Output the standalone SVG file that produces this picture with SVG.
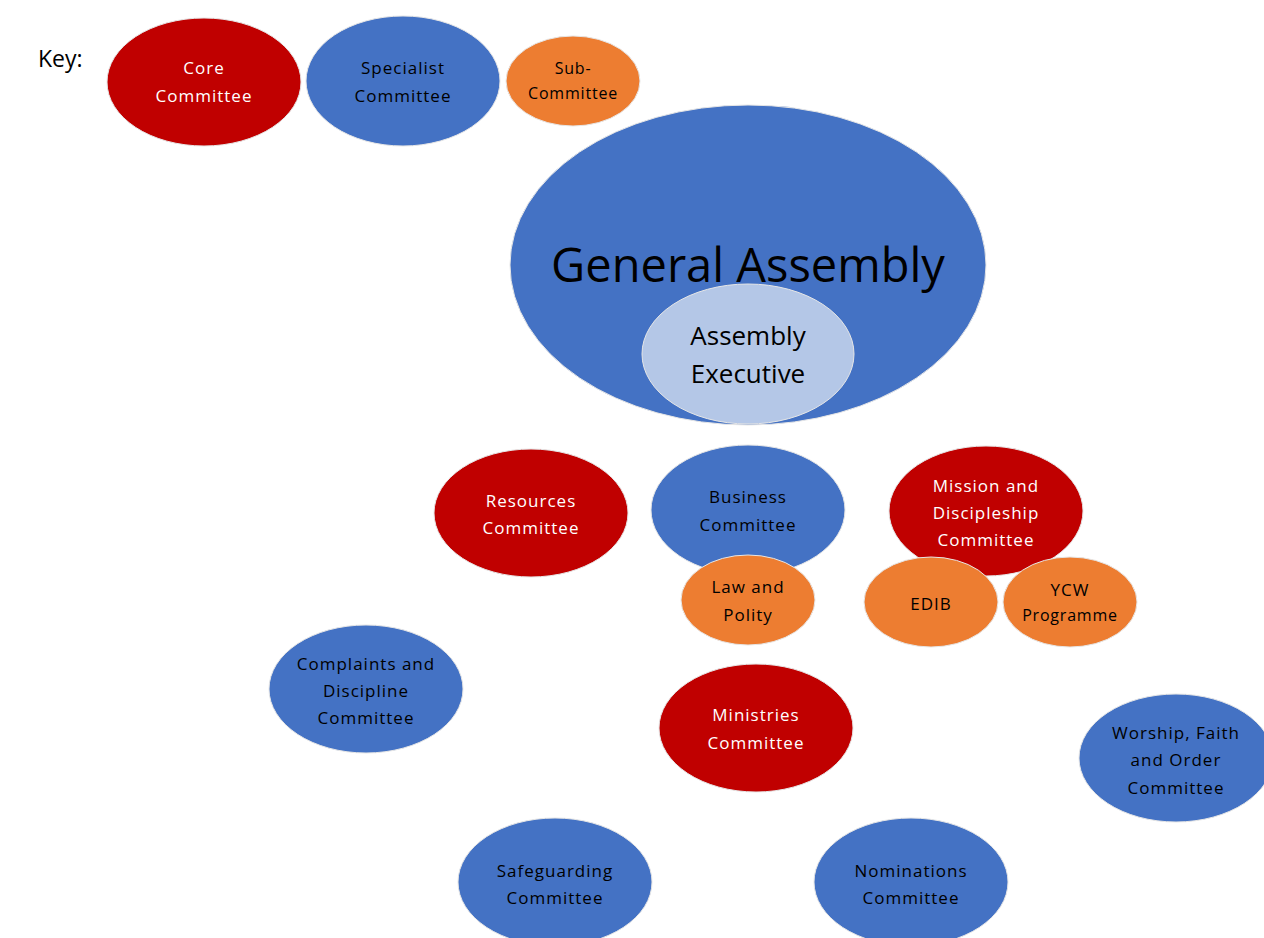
<svg xmlns="http://www.w3.org/2000/svg" width="1264" height="938" viewBox="0 0 1264 938">
<style>
text{font-family:"Open Sans","Liberation Sans",sans-serif;text-anchor:middle;dominant-baseline:central}
.red{fill:#C00000;stroke:#e6e6e6;stroke-width:1}
.blue{fill:#4472C4;stroke:#e6e6e6;stroke-width:1}
.orange{fill:#ED7D31;stroke:#e6e6e6;stroke-width:1}
.light{fill:#B4C7E7;stroke:#e6e6e6;stroke-width:1}
.w{fill:#fff;font-size:17px;letter-spacing:1px}
.k{fill:#000;font-size:17px;letter-spacing:1px}
.ks{fill:#000;font-size:16px;letter-spacing:0.8px}
</style>
<rect width="1264" height="938" fill="#fff"/>
<text x="38" y="58" style="text-anchor:start;font-size:23px" fill="#000">Key:</text>
<g id="key-core"><ellipse class="red" cx="204" cy="82" rx="97" ry="64"/><text class="w" x="204" y="67">Core</text><text class="w" x="204" y="95">Committee</text></g>
<g id="key-specialist"><ellipse class="blue" cx="403" cy="81" rx="97" ry="65"/><text class="k" x="403" y="67">Specialist</text><text class="k" x="403" y="95">Committee</text></g>
<g id="key-sub"><ellipse class="orange" cx="573" cy="81" rx="67" ry="45"/><text class="ks" x="573" y="68">Sub-</text><text class="ks" x="573" y="93">Committee</text></g>
<g id="general-assembly"><ellipse class="blue" cx="748" cy="265" rx="238" ry="160"/><text x="748" y="264" style="font-size:47px" fill="#000">General Assembly</text></g>
<g id="assembly-executive"><ellipse class="light" cx="748" cy="354" rx="106" ry="70"/><text x="748" y="335" style="font-size:26px" fill="#000">Assembly</text><text x="748" y="373" style="font-size:26px" fill="#000">Executive</text></g>
<g id="resources"><ellipse class="red" cx="531" cy="513" rx="97" ry="64"/><text class="w" x="531" y="500">Resources</text><text class="w" x="531" y="527">Committee</text></g>
<g id="business"><ellipse class="blue" cx="748" cy="510" rx="97" ry="65"/><text class="k" x="748" y="496">Business</text><text class="k" x="748" y="524">Committee</text></g>
<g id="mission"><ellipse class="red" cx="986" cy="511" rx="97" ry="65"/><text class="w" x="986" y="485">Mission and</text><text class="w" x="986" y="512">Discipleship</text><text class="w" x="986" y="539">Committee</text></g>
<g id="law-polity"><ellipse class="orange" cx="748" cy="600" rx="67" ry="45"/><text class="k" x="748" y="586">Law and</text><text class="k" x="748" y="614">Polity</text></g>
<g id="edib"><ellipse class="orange" cx="931" cy="602" rx="67" ry="45"/><text class="k" x="931" y="603">EDIB</text></g>
<g id="ycw"><ellipse class="orange" cx="1070" cy="602" rx="67" ry="45"/><text class="k" x="1070" y="589">YCW</text><text class="ks" x="1070" y="615">Programme</text></g>
<g id="complaints"><ellipse class="blue" cx="366" cy="689" rx="97" ry="64"/><text class="k" x="366" y="663">Complaints and</text><text class="k" x="366" y="690">Discipline</text><text class="k" x="366" y="717">Committee</text></g>
<g id="ministries"><ellipse class="red" cx="756" cy="728" rx="97" ry="64"/><text class="w" x="756" y="714">Ministries</text><text class="w" x="756" y="742">Committee</text></g>
<g id="worship"><ellipse class="blue" cx="1176" cy="758" rx="97" ry="64"/><text class="k" x="1176" y="732">Worship, Faith</text><text class="k" x="1176" y="759">and Order</text><text class="k" x="1176" y="787">Committee</text></g>
<g id="safeguarding"><ellipse class="blue" cx="555" cy="882" rx="97" ry="64"/><text class="k" x="555" y="870">Safeguarding</text><text class="k" x="555" y="897">Committee</text></g>
<g id="nominations"><ellipse class="blue" cx="911" cy="882" rx="97" ry="64"/><text class="k" x="911" y="870">Nominations</text><text class="k" x="911" y="897">Committee</text></g>
<g id="connectors"></g>
</svg>
